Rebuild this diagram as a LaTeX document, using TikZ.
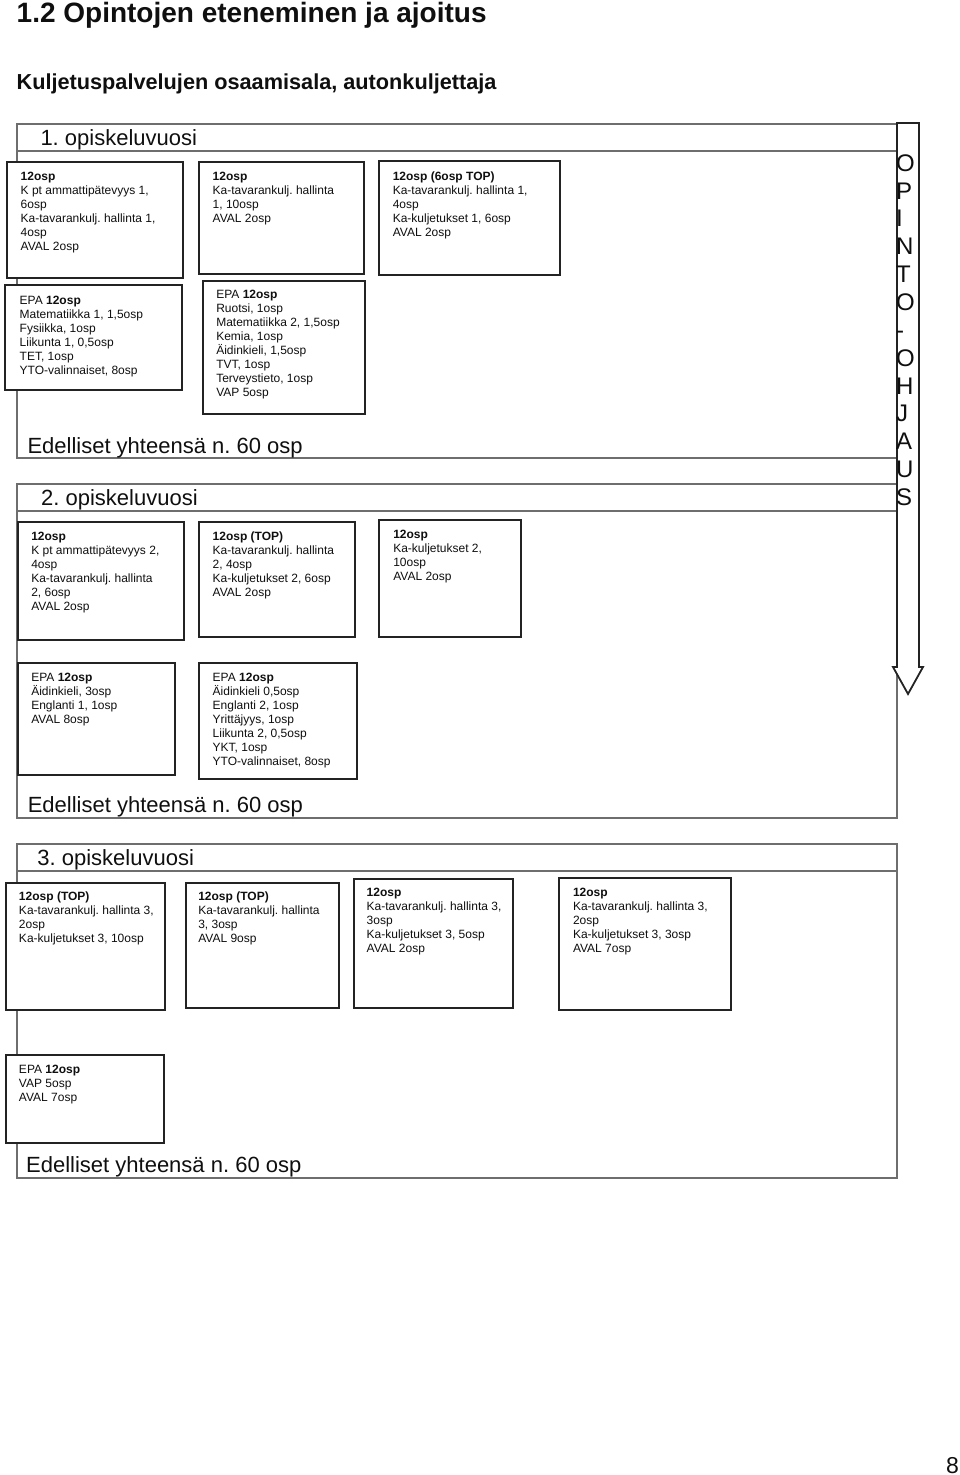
\documentclass[tikz,border=0pt]{standalone}
\usepackage{fontspec}
\setmainfont{Liberation Sans}
\frenchspacing
\definecolor{framec}{RGB}{110,110,110}
\definecolor{boxc}{RGB}{35,35,35}
\definecolor{txtc}{RGB}{15,15,15}
\newcommand\fst{\rule{0pt}{10pt}}
\newcommand\vst{\rule{0pt}{20pt}}
\begin{document}
\frenchspacing
\begin{tikzpicture}[x=1pt,y=-1pt,
  frame/.style={draw=framec, line width=1.5pt},
  box/.style={draw=boxc, fill=white, line width=1.8pt, rectangle, inner sep=0pt, anchor=north west},
  txt/.style={anchor=north west, inner sep=0pt, align=left, text=txtc, font=\fontsize{12}{14}\selectfont},
  big/.style={anchor=base west, inner sep=0pt, text=txtc, font=\fontsize{22}{25}\selectfont},
  arrowshape/.style={draw=boxc, fill=white, line width=1.8pt, line join=miter}]

\useasboundingbox (0,0) rectangle (960,1475);

% headings
\node[anchor=base west, inner sep=0pt, text=txtc, font=\fontsize{28}{32}\selectfont\bfseries] (title) at (16.5,22.7) {1.2 Opintojen eteneminen ja ajoitus};
\node[anchor=base west, inner sep=0pt, text=txtc, font=\fontsize{21.7}{25}\selectfont\bfseries] (subtitle) at (16.4,89.3) {Kuljetuspalvelujen osaamisala, autonkuljettaja};

% year frames
\draw[frame] (17,124) rectangle (897,458);
\draw[frame] (17,151) -- (897,151);
\draw[frame] (17,484) rectangle (897,818);
\draw[frame] (17,511) -- (897,511);
\draw[frame] (17,844) rectangle (897,1178);
\draw[frame] (17,871) -- (897,871);

\node[big] (y1) at (40.3,145) {1.\ opiskeluvuosi};
\node[big] (y2) at (41,505) {2.\ opiskeluvuosi};
\node[big] (y3) at (37.2,865) {3.\ opiskeluvuosi};
\node[big] (e1) at (27.3,453) {Edelliset yhteensä n.\ 60 osp};
\node[big] (e2) at (27.6,812.3) {Edelliset yhteensä n.\ 60 osp};
\node[big] (e3) at (26,1172.7) {Edelliset yhteensä n.\ 60 osp};

% year 1 boxes
\node[box, minimum width=176pt, minimum height=116pt] (bA) at (6,161) {};
\node[box, minimum width=177pt, minimum height=105pt] (bB) at (4,284) {};
\node[box, minimum width=165pt, minimum height=112pt] (bC) at (198,161) {};
\node[box, minimum width=162pt, minimum height=133pt] (bD) at (202,280) {};
\node[box, minimum width=181pt, minimum height=114pt] (bE) at (378,160) {};

\node[txt] (tA) at (20.5,170) {\fst\textbf{12osp}\\K pt ammattipätevyys 1,\\6osp\\Ka-tavarankulj.\ hallinta 1,\\4osp\\AVAL 2osp};
\node[txt] (tB) at (19.5,294.3) {\fst EPA \textbf{12osp}\\Matematiikka 1, 1,5osp\\Fysiikka, 1osp\\Liikunta 1, 0,5osp\\TET, 1osp\\YTO-valinnaiset, 8osp};
\node[txt] (tC) at (212.5,170) {\fst\textbf{12osp}\\Ka-tavarankulj.\ hallinta\\1, 10osp\\AVAL 2osp};
\node[txt] (tD) at (216.1,288.7) {\fst EPA \textbf{12osp}\\Ruotsi, 1osp\\Matematiikka 2, 1,5osp\\Kemia, 1osp\\Äidinkieli, 1,5osp\\TVT, 1osp\\Terveystieto, 1osp\\VAP 5osp};
\node[txt] (tE) at (392.6,170) {\fst\textbf{12osp (6osp TOP)}\\Ka-tavarankulj.\ hallinta 1,\\4osp\\Ka-kuljetukset 1, 6osp\\AVAL 2osp};

% year 2 boxes
\node[box, minimum width=166pt, minimum height=118pt] (bF) at (17,521) {};
\node[box, minimum width=156pt, minimum height=115pt] (bG) at (198,521) {};
\node[box, minimum width=142pt, minimum height=117pt] (bH) at (378,519) {};
\node[box, minimum width=157pt, minimum height=112pt] (bI) at (17,662) {};
\node[box, minimum width=158pt, minimum height=116pt] (bJ) at (198,662) {};

\node[txt] (tF) at (31.1,530) {\fst\textbf{12osp}\\K pt ammattipätevyys 2,\\4osp\\Ka-tavarankulj.\ hallinta\\2, 6osp\\AVAL 2osp};
\node[txt] (tG) at (212.5,530) {\fst\textbf{12osp (TOP)}\\Ka-tavarankulj.\ hallinta\\2, 4osp\\Ka-kuljetukset 2, 6osp\\AVAL 2osp};
\node[txt] (tH) at (393.1,528) {\fst\textbf{12osp}\\Ka-kuljetukset 2,\\10osp\\AVAL 2osp};
\node[txt] (tI) at (31.1,671.3) {\fst EPA \textbf{12osp}\\Äidinkieli, 3osp\\Englanti 1, 1osp\\AVAL 8osp};
\node[txt] (tJ) at (212.5,671.3) {\fst EPA \textbf{12osp}\\Äidinkieli 0,5osp\\Englanti 2, 1osp\\Yrittäjyys, 1osp\\Liikunta 2, 0,5osp\\YKT, 1osp\\YTO-valinnaiset, 8osp};

% year 3 boxes
\node[box, minimum width=159pt, minimum height=127pt] (bK) at (5,882) {};
\node[box, minimum width=153pt, minimum height=125pt] (bL) at (185,882) {};
\node[box, minimum width=159pt, minimum height=129pt] (bM) at (353,878) {};
\node[box, minimum width=172pt, minimum height=132pt] (bN) at (558,877) {};
\node[box, minimum width=158pt, minimum height=88pt] (bO) at (5,1054) {};

\node[txt] (tK) at (18.8,890) {\fst\textbf{12osp (TOP)}\\Ka-tavarankulj.\ hallinta 3,\\2osp\\Ka-kuljetukset 3, 10osp};
\node[txt] (tL) at (198.1,890) {\fst\textbf{12osp (TOP)}\\Ka-tavarankulj.\ hallinta\\3, 3osp\\AVAL 9osp};
\node[txt] (tM) at (366.5,886.3) {\fst\textbf{12osp}\\Ka-tavarankulj.\ hallinta 3,\\3osp\\Ka-kuljetukset 3, 5osp\\AVAL 2osp};
\node[txt] (tN) at (572.8,886.5) {\fst\textbf{12osp}\\Ka-tavarankulj.\ hallinta 3,\\2osp\\Ka-kuljetukset 3, 3osp\\AVAL 7osp};
\node[txt] (tO) at (18.8,1063.3) {\fst EPA \textbf{12osp}\\VAP 5osp\\AVAL 7osp};

% opinto-ohjaus arrow
\draw[arrowshape] (897,123) -- (919,123) -- (919,667) -- (923,667) -- (908,694) -- (893,667) -- (897,667) -- cycle;
\node[anchor=north west, inner sep=0pt, align=left, text=txtc, font=\fontsize{24}{27.85}\selectfont] (oo) at (896,151) {\vst O\\P\\I\\N\\T\\O\\-\\O\\H\\J\\A\\U\\S};

% page number
\node[anchor=base west, inner sep=0pt, text=txtc, font=\fontsize{23}{27}\selectfont] (page) at (946,1473) {8};
\end{tikzpicture}
\end{document}
